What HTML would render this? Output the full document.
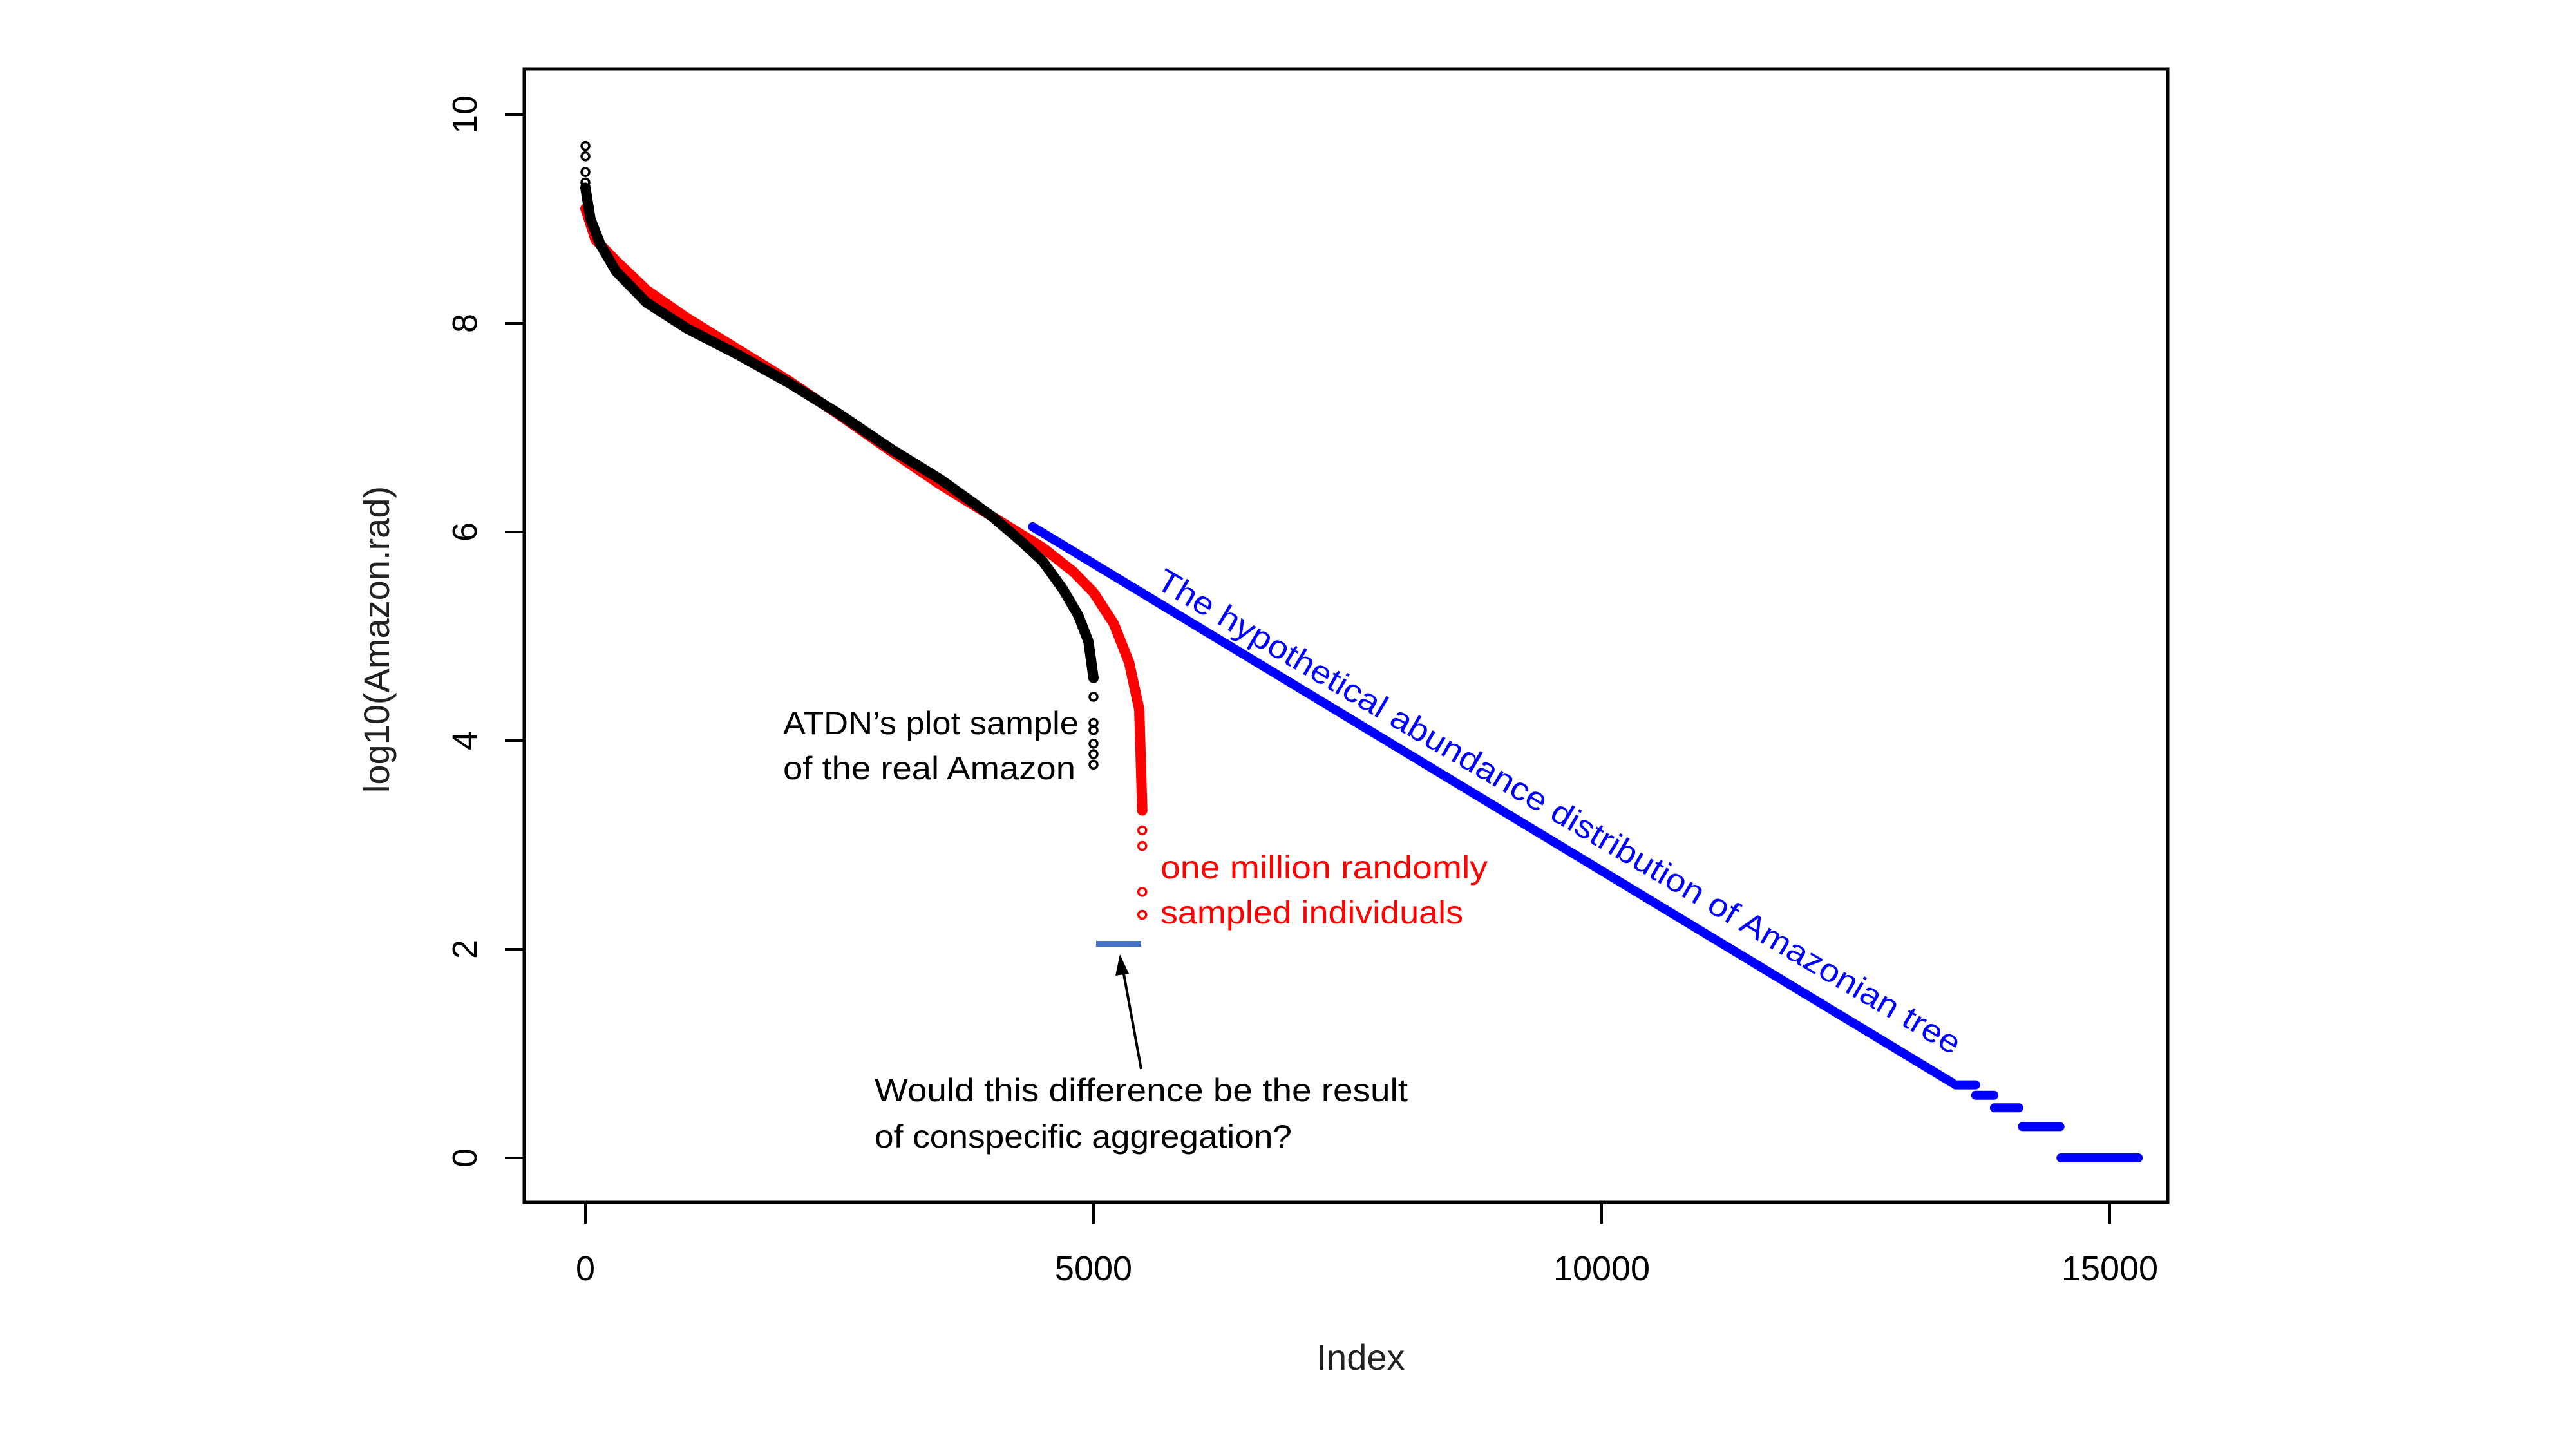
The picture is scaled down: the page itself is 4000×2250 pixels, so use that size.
<!DOCTYPE html>
<html><head><meta charset="utf-8"><style>
html,body{margin:0;padding:0;background:#fff;}
svg{display:block;}
</style></head><body>
<svg id="chart" width="4000" height="2250" viewBox="0 0 4000 2250" xmlns="http://www.w3.org/2000/svg">
<rect x="814" y="107" width="2552" height="1760" fill="none" stroke="#000" stroke-width="5"/>
<g id="axes" font-family="Liberation Sans, Arial, sans-serif" fill="#000"></g>
<g id="series"></g>
<g id="annot" font-family="Liberation Sans, sans-serif" font-size="50">
<text x="1216" y="1140" textLength="459" lengthAdjust="spacingAndGlyphs">ATDN’s plot sample</text>
<text x="1216" y="1210" textLength="454" lengthAdjust="spacingAndGlyphs">of the real Amazon</text>
<text x="1802" y="1364" fill="#f00" textLength="508" lengthAdjust="spacingAndGlyphs">one million randomly</text>
<text x="1802" y="1434" fill="#f00" textLength="470" lengthAdjust="spacingAndGlyphs">sampled individuals</text>
<text x="1358" y="1710" textLength="828" lengthAdjust="spacingAndGlyphs">Would this difference be the result</text>
<text x="1358" y="1782" textLength="648" lengthAdjust="spacingAndGlyphs">of conspecific aggregation?</text>
<text transform="translate(1792,911) rotate(30.4)" fill="#00f" textLength="1438" lengthAdjust="spacingAndGlyphs">The hypothetical abundance distribution of Amazonian tree</text>
<line x1="1772" y1="1660" x2="1744" y2="1507" stroke="#000" stroke-width="4"/>
<polygon points="1739,1482 1732,1515 1753,1512" fill="#000"/>
<rect x="1702" y="1461" width="70" height="9" fill="#4472C4"/>
</g>
</svg>
<script>
const xTicks = [0, 5000, 10000, 15000];
const yTicks = [0, 2, 4, 6, 8, 10];
const blackLine = [[0,9.3],[50,9.0],[150,8.75],[300,8.5],[600,8.2],[1000,7.95],[1500,7.7],[2000,7.43],[2500,7.13],[3000,6.8],[3500,6.5],[4000,6.15],[4300,5.9],[4500,5.72],[4700,5.45],[4850,5.2],[4950,4.95],[5000,4.6]];
const blackPoints = [[0,9.7],[0,9.6],[0,9.45],[0,9.35],[5000,4.42],[5000,4.17],[5000,4.1],[5000,3.97],[5000,3.87],[5000,3.77]];
const redLine = [[0,9.1],[100,8.8],[300,8.6],[600,8.32],[1000,8.05],[1500,7.75],[2000,7.45],[2500,7.12],[3000,6.78],[3500,6.45],[4000,6.15],[4500,5.85],[4800,5.62],[5000,5.42],[5200,5.12],[5350,4.75],[5450,4.3],[5480,3.33]];
const redPoints = [[5480,3.14],[5480,2.99],[5480,2.55],[5480,2.33]];
const blueLine = [[4400,6.05],[13450,0.72]];
const blueSteps = [[13480,13680,0.7],[13680,13860,0.6],[13865,14105,0.48],[14140,14510,0.3],[14520,15280,0]];

const xS = v => 909 + v * 0.1578;
const yS = v => 1798 - v * 162;
const NS = 'http://www.w3.org/2000/svg';
const axes = document.getElementById('axes');
const series = document.getElementById('series');
function mk(tag, attrs, parent){const e=document.createElementNS(NS,tag);for(const k in attrs)e.setAttribute(k,attrs[k]);parent.appendChild(e);return e;}

mk('line',{x1:xS(0),x2:xS(15000),y1:1867,y2:1867,stroke:'#000','stroke-width':4},axes);
xTicks.forEach(t=>{
  const l=mk('line',{x1:xS(t),x2:xS(t),y1:1867,y2:1900,stroke:'#000','stroke-width':4},axes);
  
  
  const tx=mk('text',{x:xS(t),y:1988,'text-anchor':'middle','font-size':54},axes);
  tx.textContent=t;
  
  
});
mk('line',{x1:814,x2:814,y1:yS(0),y2:yS(10),stroke:'#000','stroke-width':4},axes);
yTicks.forEach(t=>{
  const l=mk('line',{x1:784,x2:814,y1:yS(t),y2:yS(t),stroke:'#000','stroke-width':4},axes);
  
  
  const tx=mk('text',{transform:`translate(740,${yS(t)}) rotate(-90)`,'text-anchor':'middle','font-size':54},axes);
  tx.textContent=t;
  
  
});
const xl=mk('text',{x:2113,y:2127,'text-anchor':'middle','font-size':56,fill:'#222'},axes);
xl.textContent='Index';


const yl=mk('text',{transform:'translate(604,993) rotate(-90)','text-anchor':'middle','font-size':56,fill:'#222'},axes);
yl.textContent='log10(Amazon.rad)';



function line(arr,color,name,w){
  const d=arr.map((p,i)=>(i?'L':'M')+xS(p[0])+' '+yS(p[1])).join(' ');
  const p=mk('path',{d:d,fill:'none',stroke:color,'stroke-width':w,'stroke-linecap':'round','stroke-linejoin':'round'},series);
  
  
}
function pts(arr,color,name){
  arr.forEach(p=>{
    const c=mk('circle',{cx:xS(p[0]),cy:yS(p[1]),r:6,fill:'none',stroke:color,'stroke-width':3.5},series);
    
    
  });
}
line(blueLine,'#00f','blue-hypothetical-series',14);
blueSteps.forEach(s=>{
  const l=mk('line',{x1:xS(s[0]),x2:xS(s[1]),y1:yS(s[2]),y2:yS(s[2]),stroke:'#00f','stroke-width':14,'stroke-linecap':'round'},series);
  
  
});
line(redLine,'#f00','red-sampled-series',16);
pts(redPoints,'#f00','red-point');
line(blackLine,'#000','black-atdn-series',16);
pts(blackPoints,'#000','black-point');
</script>
</body></html>
